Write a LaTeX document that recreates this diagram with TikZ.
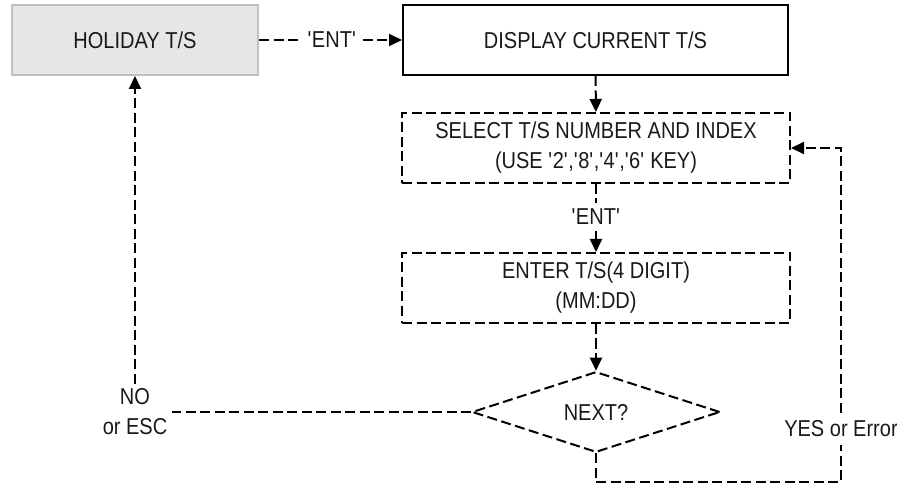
\documentclass[tikz,border=0pt]{standalone}
\usepackage{fontspec}
\setmainfont{Liberation Sans}[FakeStretch=0.87]
\usetikzlibrary{arrows.meta,shapes.geometric}
\newcommand{\sq}{\textquotesingle}

\begin{document}
\begin{tikzpicture}[x=1pt,y=1pt,yscale=-1,xscale=1,
  font=\fontsize{23}{30}\selectfont,
  every node/.style={align=center,text=black!90},
  box/.style={draw,line width=2pt,minimum width=388,minimum height=70,inner sep=0pt},
  dbox/.style={box,dash pattern={on 10pt off 4.5pt}},
  lbl/.style={inner sep=6pt},
  flow/.style={line width=2pt,dash pattern={on 10pt off 4.5pt}},
  tip/.style={flow,-{Triangle[length=13pt,width=12pt]}}]
\useasboundingbox (0,0) rectangle (897,486);

%Boxes
\node[box,draw={rgb, 255:red, 192; green, 192; blue, 192},fill={rgb, 255:red, 230; green, 230; blue, 230},minimum width=246] (holiday) at (135,40) {HOLIDAY T/S};
\node[box,minimum width=385] (display) at (595.5,40) {DISPLAY CURRENT T/S};
\node[dbox] (select) at (596,148) {SELECT T/S NUMBER AND INDEX\\(USE \sq2\sq,\sq8\sq,\sq4\sq,\sq6\sq{} KEY)};
\node[dbox] (enter) at (596,288) {ENTER T/S(4 DIGIT)\\(MM:DD)};
\node[dbox,diamond,minimum width=248,minimum height=74] (next) at (596,412) {NEXT?};

%Labels
\node[lbl] (ent1) at (332,40) {\sq ENT\sq};
\node[lbl] (ent2) at (596,217) {\sq ENT\sq};
\node[inner sep=5pt] (noesc) at (135,412) {NO\\or ESC};
\node[inner sep=8pt] (yes) at (841,429) {YES or Error};
\coordinate (loop) at (841,482);

%Connectors
\draw[flow] (holiday) -- (ent1);
\draw[tip] (ent1) -- (display);
\draw[tip] (display) -- (select);
\draw[flow] (select) -- (ent2);
\draw[tip] (ent2) -- (enter);
\draw[tip] (enter) -- (next);
\draw[flow] (next) -- (noesc);
\draw[tip] (noesc) -- (holiday);
\draw[flow] (next.south) |- (loop) -- (yes);
\draw[tip] (yes) |- (select.east);

\end{tikzpicture}
\end{document}
